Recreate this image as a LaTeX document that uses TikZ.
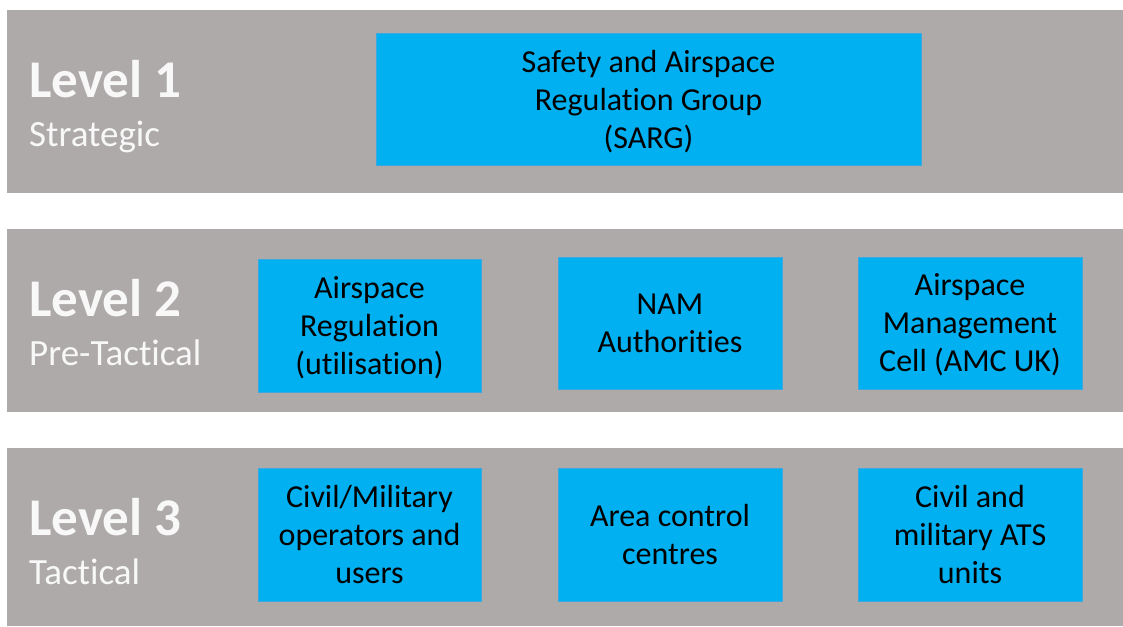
\documentclass[tikz,border=0pt]{standalone}
\usepackage{fontspec}
\setmainfont{Carlito}[Ligatures=NoCommon]
\definecolor{bandgray}{RGB}{174,170,170}
\definecolor{boxblue}{RGB}{0,176,240}
\definecolor{boxedge}{RGB}{60,168,222}
\definecolor{lvltext}{RGB}{248,248,248}
\begin{document}
\begin{tikzpicture}[x=1pt,y=-1pt,
  band/.style={fill=bandgray,draw=none},
  unitbox/.style={fill=boxblue,draw=boxedge,line width=0.6pt,inner sep=0pt},
  boxtext/.style={align=center,inner sep=0pt,font=\fontsize{32}{38}\selectfont,text=black},
  lvl/.style={anchor=base west,inner sep=0pt,text=lvltext,font=\fontsize{53}{60}\selectfont\bfseries},
  lvlsub/.style={anchor=base west,inner sep=0pt,text=lvltext,font=\fontsize{37}{44}\selectfont}]
\useasboundingbox (0,0) rectangle (1123,626);
\fill[white] (0,0) rectangle (1123,626);
% bands
\path[band] (7,10) rectangle (1123,193);
\path[band] (7,229) rectangle (1123,412);
\path[band] (7,448) rectangle (1123,626);
% level labels
\node[lvl] (l1) at (29,97) {Level 1};
\node[lvlsub] (s1) at (29,146) {Strategic};
\node[lvl] (l2) at (29,316) {Level 2};
\node[lvlsub] (s2) at (29,365) {Pre-Tactical};
\node[lvl] (l3) at (29,535) {Level 3};
\node[lvlsub] (s3) at (29,584) {Tactical};
% level 1 box
\node[unitbox,minimum width=545pt,minimum height=132pt] (sarg) at (648.5,99) {};
\node[boxtext] (sargt) at ([yshift=-3pt]sarg.center) {Safety and Airspace\\Regulation Group\\(SARG)};
% level 2 boxes
\node[unitbox,minimum width=223pt,minimum height=133pt] (ar) at (369.5,325.5) {};
\node[boxtext] (art) at ([yshift=-2pt]ar.center) {Airspace\\Regulation\\(utilisation)};
\node[unitbox,minimum width=224pt,minimum height=132pt] (nam) at (670,323.3) {};
\node[boxtext] (namt) at ([yshift=0pt]nam.center) {NAM\\Authorities};
\node[unitbox,minimum width=224pt,minimum height=132pt] (amc) at (970,323.3) {};
\node[boxtext] (amct) at ([yshift=-1pt]amc.center) {Airspace\\Management\\Cell (AMC UK)};
% level 3 boxes
\node[unitbox,minimum width=223pt,minimum height=133pt] (cmo) at (369.5,534.5) {};
\node[boxtext] (cmot) at ([yshift=0pt]cmo.center) {Civil/Military\\operators and\\users};
\node[unitbox,minimum width=224pt,minimum height=133pt] (acc) at (670,534.5) {};
\node[boxtext] (acct) at ([yshift=0pt]acc.center) {Area control\\centres};
\node[unitbox,minimum width=224pt,minimum height=133pt] (ats) at (970,534.5) {};
\node[boxtext] (atst) at ([yshift=0pt]ats.center) {Civil and\\military ATS\\units};
\end{tikzpicture}
\end{document}
